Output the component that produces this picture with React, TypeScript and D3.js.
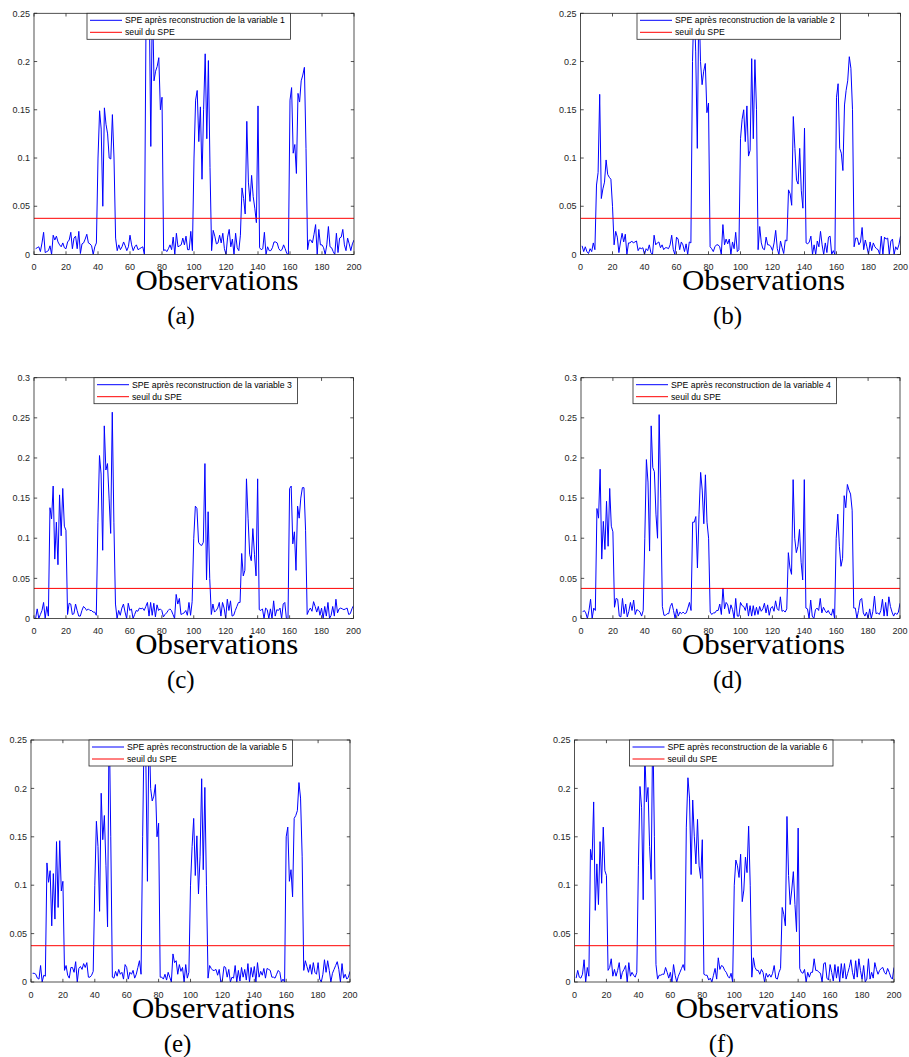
import React from "react";
import * as d3 from "d3";

// observation index 1..200
const observations = d3.range(1, 201);

// SPE after reconstruction of each variable
const speVar1 = [
  0.006, 0.007, 0.008, 0.003, 0.012, 0.023, 0.002, 0.003, 0.004, 0.009,
  0.0, 0.02, 0.015, 0.019, 0.013, 0.01, 0.008, 0.012, 0.007, 0.006,
  0.013, 0.015, 0.023, 0.006, 0.017, 0.019, 0.006, 0.024, 0.001, 0.011,
  0.012, 0.016, 0.021, 0.012, 0.011, 0.009, 0.0, 0.008, 0.012, 0.1,
  0.149, 0.13, 0.05, 0.152, 0.135, 0.125, 0.1, 0.099, 0.145, 0.1,
  0.017, 0.004, 0.01, 0.005, 0.008, 0.013, 0.009, 0.004, 0.008, 0.02,
  0.01, 0.004, 0.008, 0.01, 0.005, 0.006, 0.007, 0.008, 0.0, 0.24,
  0.3, 0.27, 0.112, 0.27, 0.18, 0.19, 0.195, 0.204, 0.15, 0.163,
  0.004, 0.005, 0.003, 0.006, 0.01, 0.005, 0.018, 0.0, 0.022, 0.008,
  0.009, 0.01, 0.017, 0.01, 0.019, 0.005, 0.005, 0.024, 0.004, 0.1,
  0.16, 0.17, 0.117, 0.153, 0.078, 0.15, 0.208, 0.12, 0.201, 0.09,
  0.004, 0.025, 0.019, 0.011, 0.012, 0.02, 0.012, 0.022, 0.006, 0.0,
  0.018, 0.026, 0.008, 0.016, 0.0, 0.022, 0.007, 0.004, 0.02, 0.069,
  0.058, 0.042, 0.138, 0.075, 0.055, 0.082, 0.06, 0.048, 0.033, 0.154,
  0.007, 0.005, 0.006, 0.023, 0.0, 0.008, 0.004, 0.004, 0.007, 0.013,
  0.013, 0.012, 0.006, 0.004, 0.005, 0.01, 0.006, 0.001, 0.0, 0.16,
  0.173, 0.105, 0.114, 0.084, 0.167, 0.158, 0.18, 0.186, 0.194, 0.11,
  0.005, 0.015, 0.015, 0.012, 0.021, 0.031, 0.0, 0.026, 0.01, 0.01,
  0.007, 0.0, 0.01, 0.029, 0.008, 0.007, 0.003, 0.0, 0.022, 0.002,
  0.017, 0.018, 0.026, 0.01, 0.004, 0.017, 0.011, 0.004, 0.011, 0.015,
];

const speVar2 = [
  0.009, 0.003, 0.008, 0.003, 0.001, 0.006, 0.003, 0.012, 0.005, 0.072,
  0.085, 0.166, 0.058, 0.068, 0.075, 0.098, 0.083, 0.08, 0.078, 0.05,
  0.01, 0.024, 0.018, 0.002, 0.013, 0.022, 0.013, 0.021, 0.0, 0.012,
  0.012, 0.014, 0.012, 0.013, 0.014, 0.004, 0.007, 0.006, 0.007, 0.0,
  0.006, 0.004, 0.01, 0.002, 0.0, 0.02, 0.01, 0.012, 0.013, 0.007,
  0.01, 0.005, 0.007, 0.007, 0.006, 0.01, 0.02, 0.005, 0.0, 0.018,
  0.016, 0.005, 0.013, 0.01, 0.003, 0.011, 0.0, 0.013, 0.012, 0.2,
  0.265, 0.21, 0.11, 0.27, 0.2, 0.176, 0.19, 0.198, 0.147, 0.157,
  0.008, 0.006, 0.003, 0.008, 0.01, 0.01, 0.008, 0.0, 0.031, 0.01,
  0.016, 0.011, 0.016, 0.0, 0.013, 0.006, 0.023, 0.003, 0.005, 0.12,
  0.14, 0.15, 0.117, 0.154, 0.102, 0.108, 0.203, 0.12, 0.202, 0.15,
  0.005, 0.029, 0.012, 0.006, 0.005, 0.018, 0.01, 0.01, 0.008, 0.004,
  0.012, 0.025, 0.006, 0.0, 0.014, 0.007, 0.001, 0.015, 0.014, 0.067,
  0.063, 0.051, 0.143, 0.11, 0.077, 0.073, 0.11, 0.066, 0.048, 0.131,
  0.012, 0.011, 0.013, 0.019, 0.0, 0.01, 0.0, 0.014, 0.008, 0.024,
  0.01, 0.0, 0.012, 0.002, 0.018, 0.019, 0.0, 0.004, 0.0, 0.163,
  0.177, 0.11, 0.105, 0.087, 0.155, 0.17, 0.18, 0.205, 0.193, 0.15,
  0.008, 0.017, 0.017, 0.01, 0.013, 0.028, 0.005, 0.015, 0.008, 0.0,
  0.013, 0.004, 0.012, 0.008, 0.006, 0.005, 0.0, 0.019, 0.0, 0.018,
  0.016, 0.017, 0.0, 0.014, 0.016, 0.0, 0.008, 0.005, 0.01, 0.019,
];

const speVar3 = [
  0.0, 0.012, 0.0, 0.005, 0.01, 0.02, 0.0, 0.015, 0.003, 0.138,
  0.124, 0.165, 0.074, 0.12, 0.067, 0.154, 0.103, 0.162, 0.115, 0.11,
  0.005, 0.019, 0.018, 0.005, 0.006, 0.018, 0.01, 0.003, 0.003, 0.01,
  0.015, 0.013, 0.01, 0.012, 0.01, 0.01, 0.008, 0.008, 0.004, 0.12,
  0.203, 0.18, 0.085, 0.24, 0.185, 0.193, 0.15, 0.106, 0.257, 0.12,
  0.018, 0.0, 0.01, 0.004, 0.013, 0.018, 0.008, 0.0, 0.019, 0.01,
  0.012, 0.0, 0.005, 0.01, 0.009, 0.013, 0.012, 0.013, 0.01, 0.015,
  0.02, 0.003, 0.02, 0.004, 0.019, 0.002, 0.017, 0.01, 0.012, 0.01,
  0.002, 0.005, 0.007, 0.01, 0.012, 0.01, 0.005, 0.0, 0.03, 0.018,
  0.025, 0.005, 0.006, 0.007, 0.01, 0.004, 0.02, 0.004, 0.021, 0.1,
  0.14, 0.137, 0.095, 0.092, 0.091, 0.095, 0.193, 0.048, 0.133, 0.05,
  0.005, 0.018, 0.008, 0.01, 0.013, 0.02, 0.003, 0.02, 0.013, 0.0,
  0.024, 0.01, 0.022, 0.003, 0.004, 0.01, 0.015, 0.02, 0.02, 0.081,
  0.053, 0.06, 0.174, 0.125, 0.08, 0.072, 0.112, 0.08, 0.053, 0.174,
  0.011, 0.01, 0.012, 0.0, 0.013, 0.011, 0.0, 0.012, 0.0, 0.022,
  0.003, 0.011, 0.01, 0.013, 0.0, 0.018, 0.02, 0.0, 0.0, 0.162,
  0.165, 0.093, 0.108, 0.06, 0.14, 0.125, 0.15, 0.163, 0.163, 0.11,
  0.005, 0.01, 0.013, 0.009, 0.021, 0.015, 0.008, 0.015, 0.004, 0.013,
  0.0, 0.015, 0.003, 0.02, 0.0, 0.004, 0.015, 0.003, 0.024, 0.007,
  0.012, 0.013, 0.012, 0.011, 0.012, 0.013, 0.005, 0.006, 0.012, 0.016,
];

const speVar4 = [
  0.008, 0.01, 0.007, 0.0, 0.01, 0.024, 0.0, 0.013, 0.01, 0.137,
  0.125, 0.186, 0.074, 0.121, 0.086, 0.146, 0.09, 0.162, 0.115, 0.108,
  0.014, 0.025, 0.024, 0.003, 0.002, 0.025, 0.006, 0.018, 0.002, 0.009,
  0.02, 0.01, 0.023, 0.005, 0.011, 0.01, 0.008, 0.003, 0.01, 0.1,
  0.198, 0.17, 0.084, 0.24, 0.188, 0.183, 0.13, 0.1, 0.254, 0.15,
  0.015, 0.004, 0.004, 0.006, 0.006, 0.015, 0.019, 0.01, 0.0, 0.012,
  0.003, 0.008, 0.006, 0.008, 0.006, 0.007, 0.013, 0.02, 0.01, 0.12,
  0.12, 0.127, 0.063, 0.13, 0.182, 0.16, 0.118, 0.179, 0.12, 0.1,
  0.008, 0.005, 0.007, 0.007, 0.01, 0.01, 0.018, 0.005, 0.038, 0.012,
  0.02, 0.017, 0.006, 0.017, 0.011, 0.0, 0.025, 0.003, 0.003, 0.02,
  0.016, 0.015, 0.01, 0.019, 0.003, 0.016, 0.003, 0.016, 0.004, 0.014,
  0.005, 0.015, 0.009, 0.012, 0.019, 0.007, 0.017, 0.004, 0.013, 0.015,
  0.009, 0.022, 0.012, 0.01, 0.027, 0.009, 0.01, 0.008, 0.012, 0.082,
  0.063, 0.055, 0.173, 0.1, 0.082, 0.09, 0.111, 0.07, 0.048, 0.173,
  0.013, 0.012, 0.0, 0.023, 0.003, 0.0, 0.011, 0.013, 0.01, 0.025,
  0.007, 0.014, 0.01, 0.007, 0.01, 0.006, 0.004, 0.012, 0.0, 0.1,
  0.13, 0.09, 0.065, 0.075, 0.153, 0.138, 0.167, 0.16, 0.155, 0.135,
  0.013, 0.013, 0.0, 0.01, 0.023, 0.025, 0.007, 0.003, 0.008, 0.0,
  0.012, 0.0, 0.009, 0.028, 0.006, 0.007, 0.005, 0.01, 0.024, 0.003,
  0.02, 0.003, 0.027, 0.015, 0.008, 0.003, 0.007, 0.005, 0.008, 0.019,
];

const speVar5 = [
  0.009, 0.009, 0.008, 0.004, 0.003, 0.017, 0.0, 0.007, 0.006, 0.123,
  0.103, 0.115, 0.058, 0.112, 0.065, 0.145, 0.077, 0.146, 0.094, 0.104,
  0.012, 0.017, 0.007, 0.004, 0.015, 0.015, 0.01, 0.021, 0.0, 0.014,
  0.016, 0.013, 0.019, 0.015, 0.02, 0.005, 0.005, 0.007, 0.011, 0.1,
  0.166, 0.14, 0.073, 0.195, 0.147, 0.172, 0.12, 0.057, 0.28, 0.15,
  0.005, 0.004, 0.011, 0.006, 0.013, 0.008, 0.01, 0.003, 0.018, 0.015,
  0.003, 0.01, 0.008, 0.012, 0.004, 0.008, 0.015, 0.022, 0.008, 0.15,
  0.27, 0.23, 0.104, 0.27, 0.2, 0.187, 0.192, 0.204, 0.15, 0.164,
  0.005, 0.005, 0.003, 0.008, 0.002, 0.01, 0.005, 0.0, 0.029, 0.02,
  0.022, 0.008, 0.018, 0.011, 0.015, 0.0, 0.018, 0.004, 0.01, 0.1,
  0.14, 0.169, 0.11, 0.151, 0.091, 0.13, 0.21, 0.116, 0.201, 0.1,
  0.004, 0.017, 0.014, 0.012, 0.012, 0.013, 0.007, 0.013, 0.0, 0.002,
  0.016, 0.015, 0.005, 0.013, 0.0, 0.005, 0.004, 0.017, 0.0, 0.012,
  0.001, 0.015, 0.005, 0.013, 0.002, 0.019, 0.0, 0.015, 0.005, 0.016,
  0.0, 0.02, 0.005, 0.011, 0.007, 0.014, 0.004, 0.014, 0.013, 0.012,
  0.005, 0.005, 0.004, 0.008, 0.012, 0.01, 0.0, 0.003, 0.0, 0.15,
  0.16, 0.104, 0.116, 0.088, 0.169, 0.172, 0.177, 0.206, 0.19, 0.13,
  0.012, 0.022, 0.016, 0.01, 0.018, 0.008, 0.02, 0.01, 0.008, 0.02,
  0.003, 0.0, 0.008, 0.023, 0.01, 0.022, 0.012, 0.0, 0.009, 0.013,
  0.017, 0.021, 0.013, 0.0, 0.019, 0.004, 0.008, 0.003, 0.005, 0.011,
];

const speVar6 = [
  0.004, 0.012, 0.005, 0.004, 0.008, 0.023, 0.0, 0.015, 0.006, 0.137,
  0.126, 0.186, 0.074, 0.122, 0.08, 0.145, 0.102, 0.16, 0.115, 0.11,
  0.012, 0.015, 0.024, 0.006, 0.013, 0.006, 0.012, 0.02, 0.003, 0.01,
  0.013, 0.017, 0.0, 0.02, 0.006, 0.01, 0.007, 0.005, 0.01, 0.12,
  0.202, 0.18, 0.085, 0.24, 0.186, 0.201, 0.14, 0.106, 0.27, 0.15,
  0.018, 0.003, 0.007, 0.007, 0.008, 0.008, 0.015, 0.01, 0.004, 0.01,
  0.0, 0.018, 0.007, 0.0, 0.006, 0.01, 0.014, 0.018, 0.012, 0.16,
  0.211, 0.19, 0.111, 0.188, 0.15, 0.122, 0.168, 0.12, 0.107, 0.147,
  0.008, 0.007, 0.007, 0.002, 0.004, 0.0, 0.007, 0.014, 0.003, 0.025,
  0.013, 0.017, 0.016, 0.012, 0.01, 0.006, 0.004, 0.009, 0.0, 0.1,
  0.126, 0.12, 0.108, 0.132, 0.083, 0.095, 0.129, 0.113, 0.161, 0.1,
  0.005, 0.025, 0.015, 0.012, 0.012, 0.008, 0.013, 0.01, 0.0, 0.009,
  0.005, 0.008, 0.005, 0.009, 0.017, 0.004, 0.003, 0.01, 0.014, 0.077,
  0.07, 0.058, 0.171, 0.11, 0.08, 0.095, 0.114, 0.08, 0.052, 0.159,
  0.014, 0.01, 0.009, 0.013, 0.0, 0.01, 0.005, 0.01, 0.01, 0.024,
  0.012, 0.012, 0.01, 0.009, 0.0, 0.019, 0.02, 0.004, 0.002, 0.018,
  0.01, 0.001, 0.018, 0.004, 0.016, 0.0, 0.019, 0.004, 0.019, 0.003,
  0.009, 0.015, 0.023, 0.01, 0.003, 0.022, 0.005, 0.024, 0.012, 0.003,
  0.017, 0.0, 0.003, 0.024, 0.003, 0.01, 0.004, 0.02, 0.013, 0.008,
  0.012, 0.014, 0.015, 0.01, 0.008, 0.014, 0.01, 0.005, 0.003, 0.015,
];

const speThreshold = 0.0375;

const xTicks = [0, 20, 40, 60, 80, 100, 120, 140, 160, 180, 200];
const yTicks025 = [0, 0.05, 0.1, 0.15, 0.2, 0.25];
const yTicks03 = [0, 0.05, 0.1, 0.15, 0.2, 0.25, 0.3];

const captions = ["(a)", "(b)", "(c)", "(d)", "(e)", "(f)"];
const seriesLabel = "SPE après reconstruction de la variable";
const thresholdLabel = "seuil du SPE";
const xLabel = "Observations";

// layout of the six axes boxes in page pixels
const layout = [
  { values: speVar1, yMax: 0.25, yTicks: yTicks025, left: 34, right: 354, top: 13.3, bottom: 254.5, legendDx: 53 },
  { values: speVar2, yMax: 0.25, yTicks: yTicks025, left: 580.5, right: 900.5, top: 13.3, bottom: 254.5, legendDx: 56.5 },
  { values: speVar3, yMax: 0.3, yTicks: yTicks03, left: 34, right: 353.5, top: 377.7, bottom: 618.5, legendDx: 60 },
  { values: speVar4, yMax: 0.3, yTicks: yTicks03, left: 581, right: 900, top: 377.7, bottom: 618.5, legendDx: 52 },
  { values: speVar5, yMax: 0.25, yTicks: yTicks025, left: 31, right: 350, top: 740, bottom: 982, legendDx: 58 },
  { values: speVar6, yMax: 0.25, yTicks: yTicks025, left: 574.5, right: 894, top: 740, bottom: 982, legendDx: 55 },
];

const axisColor = "#262626";
const sans = "'Liberation Sans', Arial, Helvetica, sans-serif";
const serif = "'Liberation Serif', 'Times New Roman', serif";
const fmt = d3.format("~g");

const Panel = ({ cfg, index }) => {
  const { values, yMax, yTicks, left, right, top, bottom, legendDx } = cfg;
  const xScale = d3.scaleLinear().domain([0, 200]).range([left, right]);
  const yScale = d3.scaleLinear().domain([0, yMax]).range([bottom, top]);
  const tick = 3.2;

  const line = d3
    .line<number>()
    .x((d, i) => xScale(observations[i]))
    .y(d => yScale(d));

  const clipId = `clip-${index}`;
  const legX = left + legendDx;
  const legY = top;
  const cx = (left + right) / 2;

  return (
    <g>
      <defs>
        <clipPath id={clipId}>
          <rect x={left} y={top} width={right - left} height={bottom - top} />
        </clipPath>
      </defs>
      <rect x={left} y={top} width={right - left} height={bottom - top} fill="#fff" />
      <g clipPath={`url(#${clipId})`}>
        <path d={line(values)} fill="none" stroke="#0000ff" strokeWidth={1} strokeLinejoin="round" />
        <line
          x1={xScale(0)}
          x2={xScale(200)}
          y1={yScale(speThreshold)}
          y2={yScale(speThreshold)}
          stroke="#ff0000"
          strokeWidth={1}
        />
      </g>

      {/* box and ticks on all four sides */}
      <rect x={left} y={top} width={right - left} height={bottom - top} fill="none" stroke={axisColor} strokeWidth={0.8} />
      {xTicks.map(t => (
        <g key={`x${t}`}>
          <line x1={xScale(t)} x2={xScale(t)} y1={bottom} y2={bottom - tick} stroke={axisColor} strokeWidth={0.8} />
          <line x1={xScale(t)} x2={xScale(t)} y1={top} y2={top + tick} stroke={axisColor} strokeWidth={0.8} />
          <text x={xScale(t)} y={bottom + 15.5} textAnchor="middle" fontFamily={sans} fontSize={9} fill={axisColor}>
            {t}
          </text>
        </g>
      ))}
      {yTicks.map(t => (
        <g key={`y${t}`}>
          <line x1={left} x2={left + tick} y1={yScale(t)} y2={yScale(t)} stroke={axisColor} strokeWidth={0.8} />
          <line x1={right} x2={right - tick} y1={yScale(t)} y2={yScale(t)} stroke={axisColor} strokeWidth={0.8} />
          <text x={left - 4} y={yScale(t) + 3.2} textAnchor="end" fontFamily={sans} fontSize={9} fill={axisColor}>
            {fmt(t)}
          </text>
        </g>
      ))}

      {/* legend */}
      <rect x={legX} y={legY} width={203.5} height={26} fill="#fff" stroke={axisColor} strokeWidth={0.8} />
      <line x1={legX + 3} x2={legX + 35} y1={legY + 7} y2={legY + 7} stroke="#0000ff" strokeWidth={1} />
      <text x={legX + 38} y={legY + 10} fontFamily={sans} fontSize={8.7} fill="#000">
        {`${seriesLabel} ${index + 1}`}
      </text>
      <line x1={legX + 3} x2={legX + 35} y1={legY + 19} y2={legY + 19} stroke="#ff0000" strokeWidth={1} />
      <text x={legX + 38} y={legY + 22} fontFamily={sans} fontSize={8.7} fill="#000">
        {thresholdLabel}
      </text>

      {/* x label and sub-caption */}
      <text
        x={cx + 23}
        y={bottom + 35.5}
        textAnchor="middle"
        fontFamily={serif}
        fontSize={30}
        textLength={163}
        lengthAdjust="spacingAndGlyphs"
        fill="#000"
      >
        {xLabel}
      </text>
      <text x={cx - 13} y={bottom + 69.5} textAnchor="middle" fontFamily={serif} fontSize={25} fill="#000">
        {captions[index]}
      </text>
    </g>
  );
};

const App = () => (
  <svg
    width={909}
    height={1057}
    style={{ position: "absolute", left: 0, top: 0, background: "#fff" }}
  >
    <rect width={909} height={1057} fill="#fff" />
    {layout.map((cfg, i) => (
      <Panel key={i} cfg={cfg} index={i} />
    ))}
  </svg>
);

export default App;
